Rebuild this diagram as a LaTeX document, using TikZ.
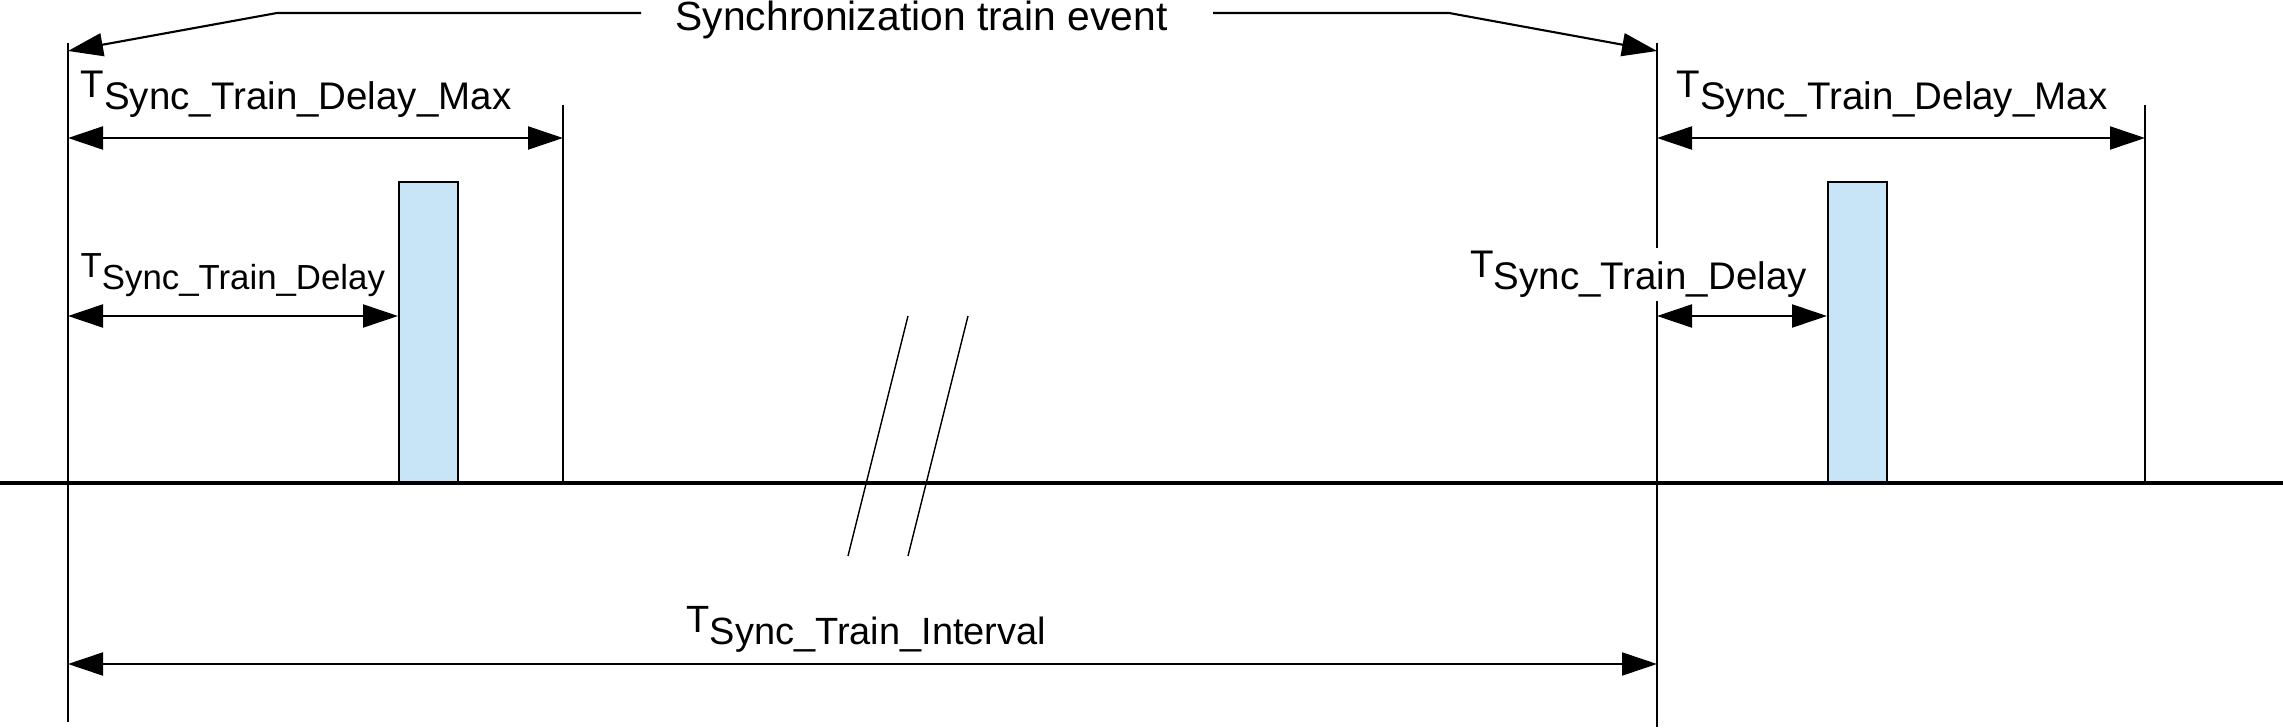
\documentclass[tikz,border=0pt]{standalone}
\usepackage{fontspec}
\setmainfont{Liberation Sans}
\usetikzlibrary{arrows.meta}
\definecolor{syncblue}{RGB}{200,228,247}
\newcommand{\tsub}[1]{T\raisebox{-1.2mm}{#1}}
\tikzset{
  dim/.style={{Triangle[length=3.5mm,width=2.3mm]}-{Triangle[length=3.5mm,width=2.3mm]},line width=0.6pt},
  evarrow/.style={-{Triangle[length=3.5mm,width=2.3mm]},line width=0.6pt},
  lbl/.style={anchor=base west,inner sep=0pt,font=\fontsize{#1}{12}\selectfont},
  lbl/.default=10.5,
  burst/.style={draw=black,fill=syncblue,line width=0.6pt,anchor=south west,
    minimum width=0.59cm,minimum height=3cm,inner sep=0pt}
}
\begin{document}
\begin{tikzpicture}
  \useasboundingbox (0,0) rectangle (22.83,7.27);
  \coordinate (evAtop) at (0.68,6.84);
  \coordinate (evAbot) at (0.68,0.05);
  \coordinate (evBtop) at (16.57,6.84);
  \coordinate (evBbot) at (16.57,0);
  \coordinate (maxAtop) at (5.63,6.22);
  \coordinate (maxBtop) at (21.45,6.22);
  \coordinate (axL) at (0,2.44);
  \coordinate (axR) at (22.83,2.44);
  % time axis and event lines
  \draw[line width=0.6pt] (evAtop) -- (evAbot);
  \draw[line width=0.6pt] (evBtop) -- (evBbot);
  \draw[line width=0.6pt] (maxAtop) -- (maxAtop |- axL);
  \draw[line width=0.35pt] (maxBtop) -- (maxBtop |- axL);
  \draw[line width=1.1pt] (axL) -- (axR);
  \foreach \x in {8.48,9.08}{
    \draw[line width=0.4pt] (\x,1.71) -- ++(0.6,2.40);
  }
  % sync train packets
  \node[burst] (barA) at (3.98,2.44) {};
  \node[burst] (barB) at (18.27,2.44) {};
  % event pointers
  \node[anchor=base west,inner sep=0pt,font=\fontsize{11.6}{14}\selectfont] (title) at (6.75,6.96) {Synchronization train event};
  \coordinate (tA) at (6.41,7.14);
  \coordinate (tAk) at (2.77,7.14);
  \coordinate (tB) at (12.13,7.14);
  \coordinate (tBk) at (14.49,7.14);
  \draw[evarrow] (tA) -- (tAk) -- (0.68,6.76);
  \draw[evarrow] (tB) -- (tBk) -- (16.57,6.76);
  % delays
  \coordinate (mA) at (0.68,5.89);
  \coordinate (mB) at (16.57,5.89);
  \coordinate (dA) at (0.68,4.11);
  \coordinate (dB) at (16.57,4.11);
  \draw[dim] (mA) -- (mA -| maxAtop);
  \draw[dim] (mB) -- (mB -| maxBtop);
  \draw[dim] (dA) -- (dA -| barA.west);
  \draw[dim] (dB) -- (dB -| barB.west);
  \node[lbl=10.95] (maxlblA) at (0.80,6.29) {\tsub{Sync\_Train\_Delay\_Max}};
  \node[lbl=10.95] (maxlblB) at (16.76,6.29) {\tsub{Sync\_Train\_Delay\_Max}};
  \node[lbl=9.9] (dlylblA) at (0.80,4.49) {\tsub{Sync\_Train\_Delay}};
  \node[lbl=10.95,fill=white,inner sep=1pt] (dlylblB) at (14.66,4.49) {\tsub{Sync\_Train\_Delay}};
  % interval
  \coordinate (iA) at (0.68,0.63);
  \draw[dim] (iA) -- (iA -| evBtop);
  \node[lbl=10.8] (intlbl) at (6.86,0.95) {\tsub{Sync\_Train\_Interval}};
\end{tikzpicture}
\end{document}
